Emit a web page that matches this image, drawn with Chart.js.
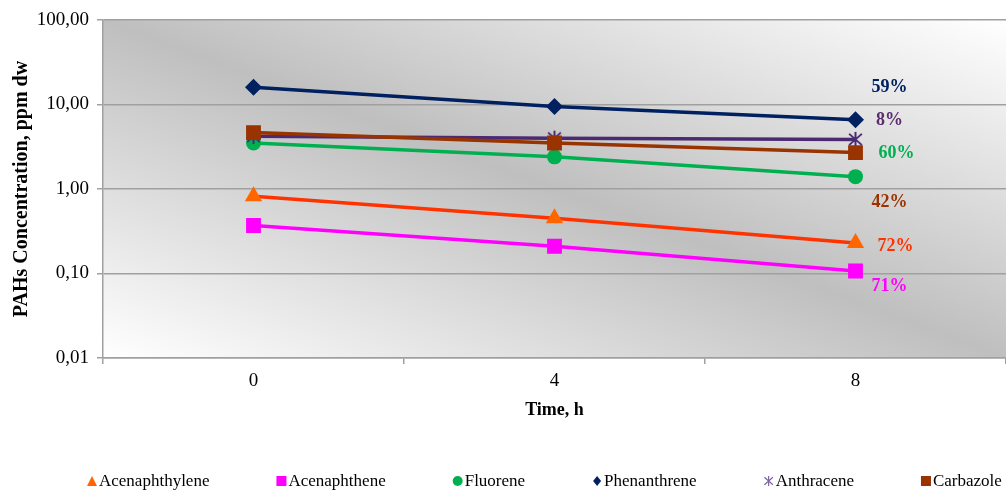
<!DOCTYPE html>
<html>
<head>
<meta charset="utf-8">
<script src="https://cdn.jsdelivr.net/npm/chart.js@4.4.1/dist/chart.umd.min.js"></script>
<style>
  html, body { margin: 0; padding: 0; background: #ffffff; }
  #wrap { width: 1006px; height: 490px; position: relative; }
</style>
</head>
<body>
<div id="wrap"><canvas id="chart" width="1006" height="490"></canvas></div>
<script>
// ---- data ----
const timeLabels = ['0', '4', '8'];
const seriesNames = ['Acenaphthylene', 'Acenaphthene', 'Fluorene', 'Phenanthrene', 'Anthracene', 'Carbazole'];
const acenaphthylene = [0.82, 0.45, 0.23];
const acenaphthene   = [0.37, 0.21, 0.107];
const fluorene       = [3.5, 2.4, 1.4];
const phenanthrene   = [16.0, 9.5, 6.6];
const anthracene     = [4.2, 4.0, 3.86];
const carbazole      = [4.65, 3.5, 2.7];
const reductionLabels = ['72%', '71%', '60%', '59%', '8%', '42%'];
const yTickValues = [0.01, 0.1, 1, 10, 100];

// ---- styles ----
const lineColors   = ['#FF3300', '#FF00FF', '#00B050', '#002060', '#4B2A72', '#993300'];
const markerColors = ['#FF6600', '#FF00FF', '#00B050', '#002060', '#4B2A72', '#993300'];
const legendColors = ['#FF6600', '#FF00FF', '#00B050', '#002060', '#8064A2', '#993300'];
const labelColors  = ['#FF3300', '#FF00FF', '#00B050', '#002060', '#5B2C6F', '#993300'];
const markerStyles = ['triangle', 'rect', 'circle', 'rectRot', 'asterisk', 'rect'];
const markerRadius = [10, 10.5, 7.5, 8.5, 8, 10.5];
// label offset from the last point of each series (px)
const labelOffsets = [[40, 3], [34, 15], [41, -23], [34, -32], [34, -19], [34, 50]];

const SERIF = '"Liberation Serif", "Times New Roman", serif';
Chart.defaults.font.family = SERIF;
Chart.defaults.color = '#000000';

const seriesData = [acenaphthylene, acenaphthene, fluorene, phenanthrene, anthracene, carbazole];

// six-armed asterisk marker (vertical stroke plus an X)
function asteriskPath(ctx, cx, cy, h) {
  ctx.moveTo(cx, cy - h); ctx.lineTo(cx, cy + h);
  ctx.moveTo(cx - h * 0.85, cy - h * 0.75); ctx.lineTo(cx + h * 0.85, cy + h * 0.75);
  ctx.moveTo(cx + h * 0.85, cy - h * 0.75); ctx.lineTo(cx - h * 0.85, cy + h * 0.75);
}
function asteriskCanvas(color, size, width) {
  const c = document.createElement('canvas');
  c.width = size; c.height = size;
  const g = c.getContext('2d');
  g.strokeStyle = color; g.lineWidth = width;
  g.beginPath();
  asteriskPath(g, size / 2, size / 2, size / 2 - 1);
  g.stroke();
  return c;
}

const datasets = seriesNames.map((name, i) => ({
  label: name,
  data: seriesData[i],
  borderColor: lineColors[i],
  backgroundColor: markerColors[i],
  borderWidth: 3.5,
  tension: 0,
  pointStyle: markerStyles[i] === 'asterisk' ? asteriskCanvas(markerColors[i], 17, 2) : markerStyles[i],
  pointRadius: markerRadius[i],
  pointHoverRadius: markerRadius[i],
  pointBackgroundColor: markerColors[i],
  pointBorderColor: markerColors[i],
  pointBorderWidth: 0,
  order: 6 - i
}));

// plot area background: diagonal grey band between lighter corners
const plotBackground = {
  id: 'plotBackground',
  beforeDraw(chart) {
    const { ctx, chartArea: a } = chart;
    ctx.save();
    ctx.translate(a.left, a.top);
    ctx.scale(a.right - a.left, a.bottom - a.top);
    const g = ctx.createLinearGradient(0, 1, 1, 0);
    g.addColorStop(0, '#ffffff');
    g.addColorStop(0.5, '#bfbfbf');
    g.addColorStop(1, '#ffffff');
    ctx.fillStyle = g;
    ctx.fillRect(0, 0, 1, 1);
    ctx.restore();
  }
};

// reduction percentages next to the last point of each series
const reductionText = {
  id: 'reductionText',
  afterDatasetsDraw(chart) {
    const ctx = chart.ctx;
    ctx.save();
    ctx.font = 'bold 18px ' + SERIF;
    ctx.textAlign = 'center';
    ctx.textBaseline = 'middle';
    chart.data.datasets.forEach((ds, i) => {
      const meta = chart.getDatasetMeta(i);
      const pt = meta.data[meta.data.length - 1];
      ctx.fillStyle = labelColors[i];
      ctx.fillText(reductionLabels[i], pt.x + labelOffsets[i][0], pt.y + labelOffsets[i][1]);
    });
    ctx.restore();
  }
};

function drawMarker(ctx, style, cx, cy, s, color) {
  ctx.fillStyle = color;
  ctx.strokeStyle = color;
  const h = s / 2;
  ctx.beginPath();
  if (style === 'triangle') {
    ctx.moveTo(cx, cy - h); ctx.lineTo(cx + h, cy + h); ctx.lineTo(cx - h, cy + h); ctx.closePath(); ctx.fill();
  } else if (style === 'rect') {
    ctx.fillRect(cx - h, cy - h, s, s);
  } else if (style === 'circle') {
    ctx.arc(cx, cy, h, 0, Math.PI * 2); ctx.fill();
  } else if (style === 'rectRot') {
    ctx.moveTo(cx, cy - h); ctx.lineTo(cx + h * 0.8, cy); ctx.lineTo(cx, cy + h); ctx.lineTo(cx - h * 0.8, cy); ctx.closePath(); ctx.fill();
  } else if (style === 'asterisk') {
    ctx.lineWidth = 1.2;
    asteriskPath(ctx, cx, cy, h);
    ctx.stroke();
  }
}

// legend row along the bottom edge
const bottomLegend = {
  id: 'bottomLegend',
  afterDraw(chart) {
    const ctx = chart.ctx;
    ctx.save();
    ctx.font = '17px ' + SERIF;
    ctx.textBaseline = 'alphabetic';
    ctx.textAlign = 'left';
    let x = 87;
    const y = 481;
    chart.data.datasets.forEach((ds, i) => {
      drawMarker(ctx, markerStyles[i], x + 5, y, 10, legendColors[i]);
      ctx.fillStyle = '#000000';
      ctx.fillText(ds.label, x + 12, y + 5);
      x += 12 + ctx.measureText(ds.label).width + 67;
    });
    ctx.restore();
  }
};

new Chart(document.getElementById('chart'), {
  type: 'line',
  data: { labels: timeLabels, datasets },
  options: {
    responsive: false,
    animation: false,
    devicePixelRatio: 1,
    layout: { autoPadding: false, padding: { top: 20, right: 0, left: 0, bottom: 0 } },
    plugins: {
      legend: { display: false },
      tooltip: { enabled: false }
    },
    scales: {
      x: {
        type: 'category',
        offset: true,
        grid: { offset: true, drawOnChartArea: false, drawTicks: true, tickLength: 6, color: '#a0a0a0', lineWidth: 1.5 },
        border: { display: true, color: '#a0a0a0', width: 1.5 },
        ticks: { font: { size: 19 }, color: '#000000', padding: 6, maxRotation: 0 },
        title: { display: true, text: 'Time, h', font: { size: 18, weight: 'bold' }, color: '#000000', padding: { top: 4, bottom: 69 } },
        afterFit(scale) { scale.height = 132; }
      },
      y: {
        type: 'logarithmic',
        min: 0.01,
        max: 100,
        afterBuildTicks(scale) { scale.ticks = yTickValues.map(v => ({ value: v, major: true })); },
        grid: { color: '#a0a0a0', lineWidth: 1.5, tickLength: 6, drawTicks: true },
        border: { display: true, color: '#a0a0a0', width: 1.5 },
        ticks: {
          font: { size: 19 },
          color: '#000000',
          padding: 8,
          callback: (v) => Number(v).toFixed(2).replace('.', ',')
        },
        title: { display: true, text: 'PAHs Concentration, ppm dw', font: { size: 20, weight: 'bold' }, color: '#000000', padding: { top: 10, bottom: 0 } },
        afterFit(scale) { scale.width = 103; }
      }
    }
  },
  plugins: [plotBackground, reductionText, bottomLegend]
});
</script>
</body>
</html>
